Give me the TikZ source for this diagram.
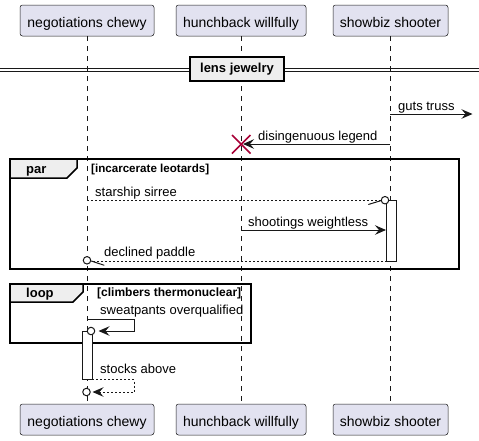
\documentclass[tikz,border=0pt]{standalone}
\usepackage{fontspec}
\setmainfont{Liberation Sans}
\usetikzlibrary{arrows.meta}
\definecolor{partfill}{HTML}{E2E2F0}
\definecolor{ln}{HTML}{181818}
\definecolor{grp}{HTML}{EEEEEE}
\definecolor{xred}{HTML}{A80036}
\begin{document}
\begin{tikzpicture}[x=1pt,y=-1pt,
  part/.style={draw=ln, fill=partfill, line width=0.5pt, rounded corners=2.5pt, inner sep=0pt,
    minimum height=31pt, text height=13pt, text depth=0pt, font=\fontsize{14pt}{16pt}\selectfont},
  life/.style={draw=ln, line width=0.5pt, dash pattern=on 5pt off 5pt},
  msg/.style={draw=ln, line width=1pt},
  ret/.style={msg, dash pattern=on 2pt off 2pt},
  tip/.style={-{Stealth[length=11pt,width=9.5pt,inset=4pt]}},
  lbl/.style={anchor=base west, inner sep=0pt, font=\fontsize{13pt}{15pt}\selectfont},
  cond/.style={anchor=base west, inner sep=0pt, font=\fontsize{#1}{13pt}\selectfont\bfseries},
  grplbl/.style={anchor=base west, inner sep=0pt, font=\fontsize{13pt}{15pt}\selectfont\bfseries},
  frame/.style={draw=black, line width=1.5pt},
  tab/.style={draw=black, fill=grp, line width=1.5pt},
  actbox/.style={draw=ln, fill=white, line width=1pt, inner sep=0pt},
  ocirc/.style={circle, draw=ln, fill=white, line width=1pt, minimum size=7.5pt, inner sep=0pt},
]
\useasboundingbox (0,0) rectangle (479,440);
% participants
\node[part, minimum width=134pt] (p1) at (87,20.5) {negotiations chewy};
\node[part, minimum width=130pt] (p2) at (241,20.5) {hunchback willfully};
\node[part, minimum width=115pt] (p3) at (390.5,20.5) {showbiz shooter};
\node[part, minimum width=134pt] (q1) at (87,419.5) {negotiations chewy};
\node[part, minimum width=130pt] (q2) at (241,419.5) {hunchback willfully};
\node[part, minimum width=115pt] (q3) at (390.5,419.5) {showbiz shooter};
% lifelines
\draw[life] (p1.south) -- (q1.north);
\draw[life] (p2.south) -- (q2.north);
\draw[life] ([xshift=-0.5pt]p3.south) -- ([xshift=-0.5pt]q3.north);
% divider
\draw[ln, line width=1pt] (0,68.7) -- (479,68.7) (0,71.3) -- (479,71.3);
\node[draw=black, fill=grp, line width=1.5pt, minimum width=94pt, minimum height=24pt, inner sep=0pt,
  text height=9.5pt, text depth=2.5pt, font=\fontsize{13pt}{15pt}\selectfont\bfseries] (div) at (237,69) {lens jewelry};
% guts truss
\coordinate (g1) at (390,114);
\coordinate (g2) at (472.5,114);
\draw[msg, tip] (g1) -- (g2);
\node[lbl] (lg) at (398,110) {guts truss};
% disingenuous legend
\draw[xred, line width=1.6pt] (232,135) -- (250.5,153.5) (232,153.5) -- (250.5,135);
\coordinate (d1) at (390,144);
\coordinate (d2) at (243,144);
\draw[msg, tip] (d1) -- (d2);
\node[lbl] (ld) at (258,140) {disingenuous legend};
% par frame
\draw[tab] (10,159) -- (77,159) -- (77,168) -- (67,178) -- (10,178) -- cycle;
\draw[frame] (10,159) rectangle (459,269);
\node[grplbl] (tpar) at (26,173) {par};
\node[cond=11.6pt] (cpar) at (91,172.5) {[incarcerate leotards]};
% activation on showbiz
\node[actbox, minimum width=9.5pt, minimum height=60.3pt] (a3) at (391.25,230.85) {};
% starship sirree
\node[ocirc] (c1) at (385,200.2) {};
\coordinate (s1) at (87,200.7);
\draw[ret] (s1) -- (c1.west |- s1);
\draw[msg] (368.3,204.5) -- (c1.west |- s1);
\node[lbl] (ls) at (95,196) {starship sirree};
% shootings weightless
\coordinate (w1) at (241,230);
\draw[msg, tip] (w1) -- (a3.west |- w1);
\node[lbl] (lw) at (248,226) {shootings weightless};
% declined paddle
\node[ocirc] (c2) at (87,260.3) {};
\coordinate (e1) at (386.5,261);
\draw[ret] (e1) -- (c2.east |- e1);
\draw[msg] (c2.east |- e1) -- (104.3,265.3);
\node[lbl] (le) at (104,256) {declined paddle};
% loop frame
\draw[tab] (10,284) -- (83,284) -- (83,292) -- (73,302) -- (10,302) -- cycle;
\draw[frame] (10,284) rectangle (251,343);
\node[grplbl] (tloop) at (26,297) {loop};
\node[cond=12pt] (cloop) at (97,296) {[climbers thermonuclear]};
% sweatpants overqualified
\node[actbox, minimum width=10pt, minimum height=48.5pt] (a1) at (87,355.5) {};
\node[ocirc] (c3) at (91,331) {};
\coordinate (o1) at (87,319);
\coordinate (o2) at (134,319);
\coordinate (o3) at (134,331);
\coordinate (o4) at (98.5,331);
\draw[msg, tip] (o1) -- (o2) -- (o3) -- (o4);
\node[lbl] (lo) at (100,314) {sweatpants overqualified};
% stocks above
\node[ocirc] (c4) at (86.5,392) {};
\coordinate (k1) at (92,379.5);
\coordinate (k2) at (134,379.5);
\coordinate (k3) at (134,392);
\coordinate (k4) at (92.5,392);
\draw[ret, tip] (k1) -- (k2) -- (k3) -- (k4);
\node[lbl] (lk) at (100,373) {stocks above};
\end{tikzpicture}
\end{document}
